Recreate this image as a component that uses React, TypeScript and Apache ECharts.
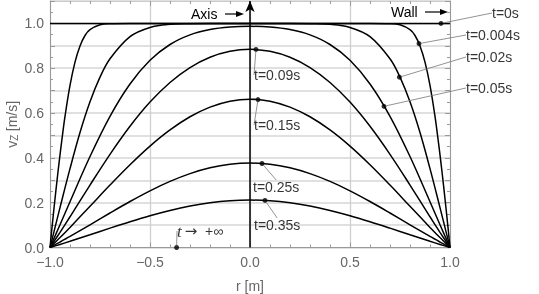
import React, { useEffect, useRef } from "react";
import * as echarts from "echarts";

// ---- data ----
const r0 = [-1, 1];
const v0 = [1, 1];

const r004 = [-1, -0.99, -0.98, -0.97, -0.96, -0.95, -0.94, -0.925, -0.9, -0.875, -0.85, -0.825, -0.8, -0.75, -0.7, -0.6, 0, 0.6, 0.7, 0.75, 0.8, 0.825, 0.85, 0.875, 0.9, 0.925, 0.94, 0.95, 0.96, 0.97, 0.98, 0.99, 1];
const v004 = [0, 0.09, 0.175, 0.258, 0.338, 0.413, 0.485, 0.585, 0.723, 0.827, 0.899, 0.946, 0.972, 0.994, 0.999, 1.0, 1.0, 1.0, 0.999, 0.994, 0.972, 0.946, 0.899, 0.827, 0.723, 0.585, 0.485, 0.413, 0.338, 0.258, 0.175, 0.09, 0];

const r002 = [-1, -0.98, -0.95, -0.9, -0.85, -0.8, -0.75, -0.7, -0.6, -0.5, -0.4, -0.3, -0.2, 0, 0.2, 0.3, 0.4, 0.5, 0.6, 0.7, 0.75, 0.8, 0.85, 0.9, 0.95, 0.98, 1];
const v002 = [0, 0.071, 0.178, 0.352, 0.513, 0.65, 0.76, 0.842, 0.941, 0.982, 0.996, 0.999, 1.0, 1.0, 1.0, 0.999, 0.996, 0.982, 0.941, 0.842, 0.76, 0.65, 0.513, 0.352, 0.178, 0.071, 0];

const rGrid = [-1, -0.95, -0.9, -0.8, -0.7, -0.6, -0.5, -0.4, -0.3, -0.2, -0.1, 0, 0.1, 0.2, 0.3, 0.4, 0.5, 0.6, 0.7, 0.8, 0.9, 0.95, 1];
const v005 = [0, 0.1015, 0.2044, 0.4062, 0.5856, 0.7297, 0.8356, 0.9059, 0.9488, 0.9724, 0.9837, 0.987, 0.9837, 0.9724, 0.9488, 0.9059, 0.8356, 0.7297, 0.5856, 0.4062, 0.2044, 0.1015, 0];
const v009 = [0, 0.0678, 0.1371, 0.2787, 0.4158, 0.5409, 0.6489, 0.7365, 0.803, 0.8489, 0.8756, 0.8844, 0.8756, 0.8489, 0.803, 0.7365, 0.6489, 0.5409, 0.4158, 0.2787, 0.1371, 0.0678, 0];
const v015 = [0, 0.0443, 0.0897, 0.1841, 0.2787, 0.3694, 0.4526, 0.5248, 0.5835, 0.6266, 0.653, 0.6618, 0.653, 0.6266, 0.5835, 0.5248, 0.4526, 0.3694, 0.2787, 0.1841, 0.0897, 0.0443, 0];
const v025 = [0, 0.0243, 0.0493, 0.1013, 0.154, 0.2052, 0.2529, 0.2949, 0.3296, 0.3555, 0.3715, 0.3769, 0.3715, 0.3555, 0.3296, 0.2949, 0.2529, 0.2052, 0.154, 0.1013, 0.0493, 0.0243, 0];
const v035 = [0, 0.0136, 0.0276, 0.0567, 0.0863, 0.115, 0.1418, 0.1654, 0.185, 0.1996, 0.2086, 0.2116, 0.2086, 0.1996, 0.185, 0.1654, 0.1418, 0.115, 0.0863, 0.0567, 0.0276, 0.0136, 0];

const calloutNames = ["t=0s", "t=0.004s", "t=0.02s", "t=0.05s", "t=0.09s", "t=0.15s", "t=0.25s", "t=0.35s", "{i|t}{a|\u2192}  +\u221e"];
const calloutR = [0.955, 0.845, 0.747, 0.67, 0.03, 0.04, 0.06, 0.075, -0.367];
const calloutV = [1.0, 0.91, 0.76, 0.63, 0.884, 0.66, 0.375, 0.21, 0];

const xTicks = [-1, -0.5, 0, 0.5, 1];
const yLabelTicks = [0, 0.2, 0.4, 0.6, 0.8, 1.0];

// label placement (pixels, layout only)
const labelPos = [[492, 13], [466, 35], [466, 57], [466, 88], [254, 75], [254, 125], [253, 187], [254, 225], [177, 231]];

const FONT = "'Liberation Sans', Arial, sans-serif";
const GRAY = "#666";
const AXIS_GRAY = "#9a9a9a";

const zip = (r: number[], v: number[]) => r.map((x, i) => [x, v[i]]);

export default function App() {
  const ref = useRef<HTMLDivElement>(null);
  useEffect(() => {
    if (!ref.current) return;
    const chart = echarts.init(ref.current, undefined, { renderer: "svg" });
    const curve = (name: string, data: number[][], extra: any = {}) => ({
      name,
      type: "line",
      data,
      smooth: 0.35,
      showSymbol: false,
      silent: true,
      lineStyle: { color: "#000", width: 1.5 },
      z: 3,
      ...extra,
    });
    const fmtX = (v: number) => (v < 0 ? "\u2212" + Math.abs(v).toFixed(1) : v.toFixed(1));
    chart.setOption({
      animation: false,
      grid: { left: 50, right: 89, top: 1, bottom: 46.5, containLabel: false, outerBoundsMode: "none" },
      xAxis: [
        {
          type: "value",
          min: -1,
          max: 1,
          interval: 0.5,
          name: "r [m]",
          nameLocation: "middle",
          nameGap: 31,
          nameMoveOverlap: false,
          nameTextStyle: { color: GRAY, fontSize: 14, fontFamily: FONT },
          axisLine: { show: true, onZero: false, lineStyle: { color: AXIS_GRAY, width: 1 } },
          axisTick: { show: true, inside: true, length: 5, lineStyle: { color: AXIS_GRAY } },
          minorTick: { show: true, splitNumber: 5, length: 3, lineStyle: { color: AXIS_GRAY } },
          axisLabel: {
            color: GRAY,
            fontSize: 14,
            fontFamily: FONT,
            margin: 7,
            formatter: (v: number) => (xTicks.some((t) => Math.abs(t - v) < 1e-9) ? fmtX(v) : ""),
          },
          splitLine: { show: true, lineStyle: { color: "#cfcfcf", width: 1.3 } },
        },
        {
          type: "value",
          position: "top",
          min: -1,
          max: 1,
          interval: 0.5,
          axisLine: { show: true, onZero: false, lineStyle: { color: "#cccccc", width: 1 } },
          axisTick: { show: true, inside: true, length: 5, lineStyle: { color: AXIS_GRAY } },
          minorTick: { show: true, splitNumber: 5, length: 3, lineStyle: { color: AXIS_GRAY } },
          axisLabel: { show: false },
          splitLine: { show: false },
        },
      ],
      yAxis: [
        {
          type: "value",
          min: 0,
          max: 1.1,
          interval: 0.1,
          name: "{v|v}{s|Z} {v|[m/s]}",
          nameLocation: "middle",
          nameGap: 31,
          nameMoveOverlap: false,
          nameTextStyle: {
            color: GRAY,
            fontFamily: FONT,
            rich: {
              v: { fontSize: 14, color: GRAY, fontFamily: FONT, lineHeight: 14 },
              s: { fontSize: 10, color: GRAY, fontFamily: FONT, lineHeight: 14, verticalAlign: "bottom", padding: [5, 0, 0, 0] },
            },
          },
          axisLine: { show: true, onZero: false, lineStyle: { color: AXIS_GRAY, width: 1 } },
          axisTick: { show: true, inside: true, length: 5, lineStyle: { color: AXIS_GRAY } },
          minorTick: { show: true, splitNumber: 2, length: 3, lineStyle: { color: AXIS_GRAY } },
          axisLabel: {
            color: GRAY,
            fontSize: 14,
            fontFamily: FONT,
            margin: 6,
            formatter: (v: number) => (yLabelTicks.some((t) => Math.abs(t - v) < 1e-6) ? v.toFixed(1) : ""),
          },
          splitLine: { show: true, lineStyle: { color: "#d6d6d6", width: 1.5 } },
        },
        {
          type: "value",
          position: "right",
          min: 0,
          max: 1.1,
          interval: 0.1,
          axisLine: { show: true, onZero: false, lineStyle: { color: AXIS_GRAY, width: 1 } },
          axisTick: { show: true, inside: true, length: 5, lineStyle: { color: AXIS_GRAY } },
          minorTick: { show: true, splitNumber: 2, length: 3, lineStyle: { color: AXIS_GRAY } },
          axisLabel: { show: false },
          splitLine: { show: false },
        },
      ],
      series: [
        curve("t=0s", zip(r0, v0), {
          smooth: false,
          markLine: {
            silent: true,
            symbol: ["none", "arrow"],
            symbolSize: [7, 11],
            label: { show: false },
            lineStyle: { color: "#000", width: 1.5, type: "solid" },
            data: [[{ coord: [0, 0] }, { coord: [0, 1.1] }]],
          },
        }),
        curve("t=0.004s", zip(r004, v004)),
        curve("t=0.02s", zip(r002, v002)),
        curve("t=0.05s", zip(rGrid, v005)),
        curve("t=0.09s", zip(rGrid, v009)),
        curve("t=0.15s", zip(rGrid, v015)),
        curve("t=0.25s", zip(rGrid, v025)),
        curve("t=0.35s", zip(rGrid, v035)),
        {
          name: "callouts",
          type: "scatter",
          silent: true,
          z: 5,
          symbolSize: 5,
          itemStyle: { color: "#000" },
          data: calloutNames.map((n, i) => ({ name: n, value: [calloutR[i], calloutV[i]] })),
          label: {
            show: true,
            formatter: "{b}",
            color: "#000",
            fontSize: 14,
            fontFamily: FONT,
            rich: {
              i: { fontStyle: "italic", fontFamily: "'Liberation Serif', serif", fontSize: 17, color: "#000" },
              a: { fontFamily: "'DejaVu Sans', sans-serif", fontSize: 15, color: "#000", padding: [0, 0, 0, 3] },
            },
          },
          labelLine: { show: true, lineStyle: { color: "#777", width: 0.8 } },
          labelLayout: (params: any) => {
            const p = labelPos[params.dataIndex];
            return { x: p[0], y: p[1], align: "left", verticalAlign: "middle" };
          },
        },
      ],
      graphic: [
        { type: "text", x: 191, y: 14, style: { text: "Axis", fill: "#000", font: `14px ${FONT}`, textVerticalAlign: "middle" } },
        { type: "line", shape: { x1: 225, y1: 14, x2: 238, y2: 14 }, style: { stroke: "#000", lineWidth: 1.2 } },
        { type: "polygon", shape: { points: [[244, 14], [236, 11], [236, 17]] }, style: { fill: "#000" } },
        { type: "text", x: 391, y: 12, style: { text: "Wall", fill: "#000", font: `14px ${FONT}`, textVerticalAlign: "middle" } },
        { type: "line", shape: { x1: 425, y1: 12, x2: 441, y2: 12 }, style: { stroke: "#000", lineWidth: 1.2 } },
        { type: "polygon", shape: { points: [[448, 12], [440, 9], [440, 15]] }, style: { fill: "#000" } },
      ],
    });
    return () => chart.dispose();
  }, []);
  return <div ref={ref} style={{ position: "fixed", left: 0, top: 0, width: 539, height: 294 }} />;
}
